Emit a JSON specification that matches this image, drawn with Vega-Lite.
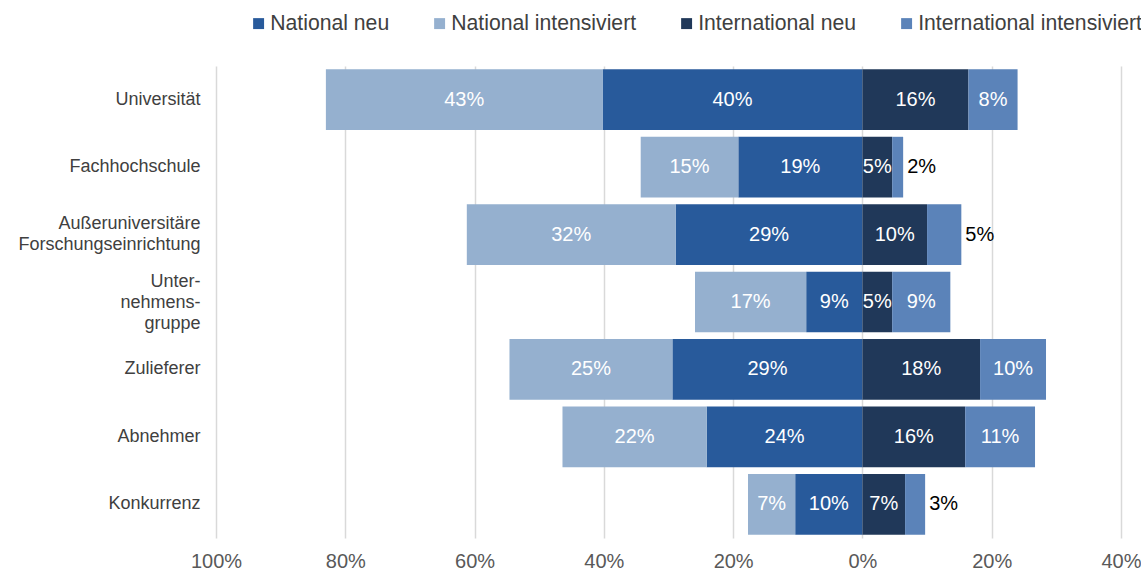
{
  "$schema": "https://vega.github.io/schema/vega-lite/v6.json",
  "width": 905,
  "height": 472,
  "autosize": {"type": "none"},
  "padding": {"left": 216, "top": 66, "right": 20, "bottom": 33},
  "background": "white",
  "config": {
    "view": {"stroke": null},
    "font": "Liberation Sans"
  },
  "data": {
    "values": [
      {"category": "Universität", "series": "National neu", "order": 1, "value": -40.2},
      {"category": "Universität", "series": "National intensiviert", "order": 2, "value": -42.8},
      {"category": "Universität", "series": "International neu", "order": 3, "value": 16.4},
      {"category": "Universität", "series": "International intensiviert", "order": 4, "value": 7.6},
      {"category": "Fachhochschule", "series": "National neu", "order": 1, "value": -19.2},
      {"category": "Fachhochschule", "series": "National intensiviert", "order": 2, "value": -15.1},
      {"category": "Fachhochschule", "series": "International neu", "order": 3, "value": 4.6},
      {"category": "Fachhochschule", "series": "International intensiviert", "order": 4, "value": 1.7},
      {"category": "Außeruniversitäre Forschungseinrichtung", "series": "National neu", "order": 1, "value": -28.9},
      {"category": "Außeruniversitäre Forschungseinrichtung", "series": "National intensiviert", "order": 2, "value": -32.3},
      {"category": "Außeruniversitäre Forschungseinrichtung", "series": "International neu", "order": 3, "value": 10.0},
      {"category": "Außeruniversitäre Forschungseinrichtung", "series": "International intensiviert", "order": 4, "value": 5.3},
      {"category": "Unternehmensgruppe", "series": "National neu", "order": 1, "value": -8.7},
      {"category": "Unternehmensgruppe", "series": "National intensiviert", "order": 2, "value": -17.2},
      {"category": "Unternehmensgruppe", "series": "International neu", "order": 3, "value": 4.6},
      {"category": "Unternehmensgruppe", "series": "International intensiviert", "order": 4, "value": 9.0},
      {"category": "Zulieferer", "series": "National neu", "order": 1, "value": -29.4},
      {"category": "Zulieferer", "series": "National intensiviert", "order": 2, "value": -25.2},
      {"category": "Zulieferer", "series": "International neu", "order": 3, "value": 18.2},
      {"category": "Zulieferer", "series": "International intensiviert", "order": 4, "value": 10.2},
      {"category": "Abnehmer", "series": "National neu", "order": 1, "value": -24.1},
      {"category": "Abnehmer", "series": "National intensiviert", "order": 2, "value": -22.3},
      {"category": "Abnehmer", "series": "International neu", "order": 3, "value": 15.9},
      {"category": "Abnehmer", "series": "International intensiviert", "order": 4, "value": 10.8},
      {"category": "Konkurrenz", "series": "National neu", "order": 1, "value": -10.4},
      {"category": "Konkurrenz", "series": "National intensiviert", "order": 2, "value": -7.3},
      {"category": "Konkurrenz", "series": "International neu", "order": 3, "value": 6.6},
      {"category": "Konkurrenz", "series": "International intensiviert", "order": 4, "value": 3.1}
    ]
  },
  "transform": [
    {"stack": "value", "groupby": ["category"], "sort": [{"field": "order", "order": "ascending"}], "as": ["x0", "x1"], "offset": "zero"},
    {"calculate": "(datum.x0 + datum.x1) / 2", "as": "mid"},
    {"calculate": "format(abs(datum.value), '.0f') + '%'", "as": "label"},
    {"calculate": "datum.series == 'International intensiviert' && datum.value < 6", "as": "outside"}
  ],
  "encoding": {
    "y": {
      "field": "category",
      "type": "nominal",
      "sort": ["Universität", "Fachhochschule", "Außeruniversitäre Forschungseinrichtung", "Unternehmensgruppe", "Zulieferer", "Abnehmer", "Konkurrenz"],
      "scale": {"paddingInner": 0.1, "paddingOuter": 0.05},
      "axis": {
        "title": null,
        "domain": false,
        "ticks": false,
        "labelPadding": 16,
        "labelFontSize": 18,
        "labelColor": "#404040",
        "labelLineHeight": 21,
        "labelLimit": 300,
        "labelOffset": {
          "condition": [
            {"test": "datum.value == 'Außeruniversitäre Forschungseinrichtung'", "value": -11},
            {"test": "datum.value == 'Unternehmensgruppe'", "value": -20}
          ],
          "value": 0
        },
        "labelExpr": "datum.value == 'Außeruniversitäre Forschungseinrichtung' ? ['Außeruniversitäre', 'Forschungseinrichtung'] : datum.value == 'Unternehmensgruppe' ? ['Unter-', 'nehmens-', 'gruppe'] : datum.value"
      }
    }
  },
  "layer": [
    {
      "mark": {"type": "bar"},
      "encoding": {
        "x": {
          "field": "x0",
          "type": "quantitative",
          "scale": {"domain": [-100, 40], "nice": false},
          "axis": {
            "title": null,
            "values": [-100, -80, -60, -40, -20, 0, 20, 40],
            "labelExpr": "abs(datum.value) + '%'",
            "domain": false,
            "ticks": false,
            "grid": true,
            "gridColor": "#D9D9D9",
            "gridWidth": 1.5,
            "labelFontSize": 20,
            "labelColor": "#595959",
            "labelPadding": 13,
            "labelFlush": false
          }
        },
        "x2": {"field": "x1"},
        "color": {
          "field": "series",
          "type": "nominal",
          "scale": {
            "domain": ["National neu", "National intensiviert", "International neu", "International intensiviert"],
            "range": ["#285A9B", "#95B0CF", "#203859", "#5B83B9"]
          },
          "legend": {
            "title": null,
            "orient": "none",
            "direction": "horizontal",
            "legendX": 32,
            "legendY": -53,
            "gridAlign": "none",
            "columnPadding": 39,
            "symbolType": "square",
            "symbolSize": 120,
            "symbolStrokeWidth": 0,
            "labelOffset": 1,
            "labelFontSize": 21.2,
            "labelColor": "#404040",
            "labelLimit": 400
          }
        }
      }
    },
    {
      "transform": [{"filter": "!datum.outside"}],
      "mark": {"type": "text", "color": "white", "fontSize": 20, "align": "center", "baseline": "middle"},
      "encoding": {
        "x": {"field": "mid", "type": "quantitative"},
        "text": {"field": "label", "type": "nominal"},
        "detail": {"field": "series"}
      }
    },
    {
      "transform": [{"filter": "datum.outside"}],
      "mark": {"type": "text", "color": "black", "fontSize": 20, "align": "left", "baseline": "middle", "dx": 4},
      "encoding": {
        "x": {"field": "x1", "type": "quantitative"},
        "text": {"field": "label", "type": "nominal"}
      }
    }
  ]
}
